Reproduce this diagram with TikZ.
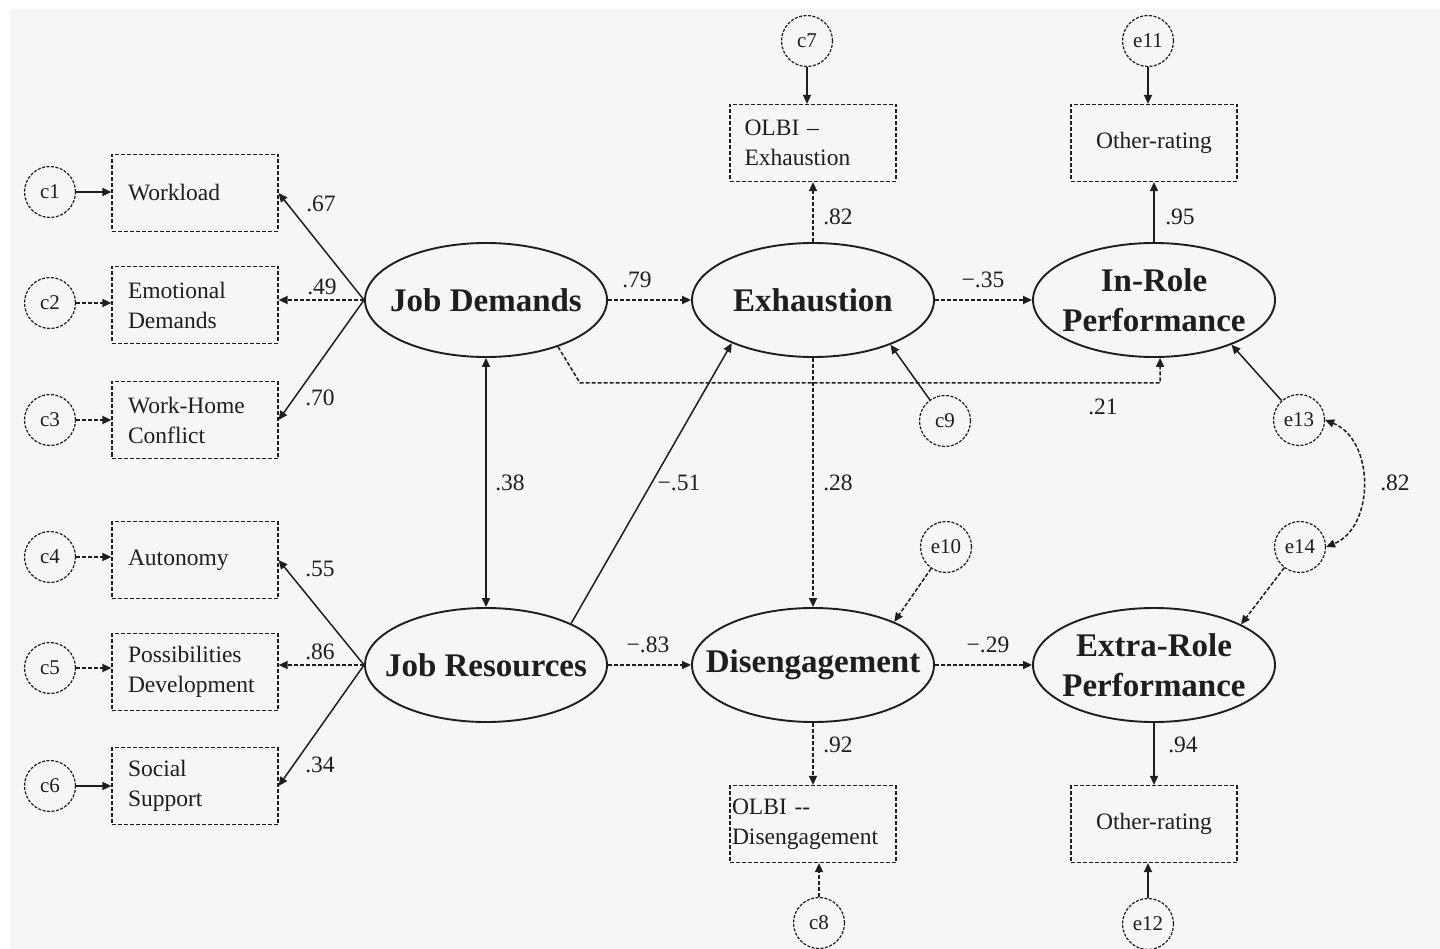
\documentclass[tikz,border=0pt]{standalone}
\usepackage{fontspec}
\setmainfont{Liberation Serif}
\usetikzlibrary{arrows.meta,shapes.geometric}
\definecolor{bg}{HTML}{F6F6F6}
\definecolor{ink}{HTML}{1E1E1E}
\begin{document}
\begin{tikzpicture}[x=1pt,y=-1pt,
  >={Triangle[length=9pt,width=8pt]},
  every node/.style={text=ink},
  err/.style={circle,draw=ink,dash pattern=on 3pt off 1.5pt,line width=1.2pt,minimum size=51pt,inner sep=0pt,font=\fontsize{21}{24}\selectfont},
  obs/.style={rectangle,draw=ink,dash pattern=on 4pt off 2pt,line width=1.2pt,minimum width=166pt,minimum height=77pt,text width=134pt,inner xsep=16pt,align=left,font=\fontsize{23.5}{30}\selectfont},
  lat/.style={ellipse,draw=ink,line width=1.9pt,minimum width=242pt,minimum height=114pt,inner sep=0pt},
  lattext/.style={label={[align=center,inner sep=0pt,font=\fontsize{33}{40}\selectfont\bfseries,text=ink]center:#1}},
  con/.style={->,draw=ink,line width=1.5pt},
  dcon/.style={con,dash pattern=on 4pt off 2pt},
  dbl/.style={<->,draw=ink,line width=1.5pt},
  lab/.style={font=\fontsize{23.5}{26}\selectfont,inner sep=0pt},
]
\useasboundingbox (0,0) rectangle (1440,949);
\fill[white] (0,0) rectangle (1440,949);
\fill[bg] (10,9) rectangle (1440,949);

% error circles left
\node[err] (c1) at (50,192) {c1};
\node[err] (c2) at (50,303) {c2};
\node[err] (c3) at (50,420) {c3};
\node[err] (c4) at (50,557) {c4};
\node[err] (c5) at (50,668) {c5};
\node[err] (c6) at (50,786) {c6};

% observed boxes left
\node[obs] (wl) at (195,193) {Workload};
\node[obs] (ed) at (195,305) {Emotional\\Demands};
\node[obs] (wh) at (195,420) {Work-Home\\Conflict};
\node[obs] (au) at (195,560) {Autonomy};
\node[obs] (pd) at (195,672) {Possibilities\\Development};
\node[obs] (ss) at (195,786) {Social\\Support};

% latent
\node[lat,lattext={Job Demands}] (jd) at (486,300) {};
\node[lat,lattext={Job Resources}] (jr) at (486,665) {};
\node[lat,lattext={Exhaustion}] (ex) at (813,300) {};
\node[lat,lattext={Disengagement}] (dis) at (813,665) {};
\node[lat,lattext={In-Role\\Performance}] (ir) at (1154,300) {};
\node[lat,lattext={Extra-Role\\Performance}] (er) at (1154,665) {};

% observed boxes right
\node[obs,text width=137pt,inner xsep=13pt] (olbie) at (813,143) {OLBI –\\Exhaustion};
\node[obs,text width=162pt,inner xsep=2pt] (olbid) at (813,824) {OLBI -{}-\\Disengagement};
\node[obs,align=center] (or1) at (1154,143) {Other-rating};
\node[obs,align=center] (or2) at (1154,824) {Other-rating};

% error circles right
\node[err] (c7) at (807,41) {c7};
\node[err] (e11) at (1148,41) {e11};
\node[err] (c8) at (819,923) {c8};
\node[err] (e12) at (1148,924) {e12};
\node[err] (c9) at (945,421) {c9};
\node[err] (e10) at (946,547) {e10};
\node[err] (e13) at (1299,420) {e13};
\node[err] (e14) at (1300,547) {e14};

% error arrows left
\draw[con] (c1) -- (c1 -| wl.west);
\draw[dcon] (c2) -- (c2 -| ed.west);
\draw[dcon] (c3) -- (c3 -| wh.west);
\draw[dcon] (c4) -- (c4 -| au.west);
\draw[dcon] (c5) -- (c5 -| pd.west);
\draw[con] (c6) -- (c6 -| ss.west);

% loadings left
\draw[con] (jd.west) -- (wl.east);
\draw[dcon] (jd.west) -- (ed.east |- jd.west);
\draw[con] (jd.west) -- (wh.east);
\draw[con] (jr.west) -- (au.east);
\draw[dcon] (jr.west) -- (pd.east |- jr.west);
\draw[con] (jr.west) -- (ss.east);

% structural paths
\draw[dbl] (jd) -- (jr);
\draw[dcon] (jd.east) -- (ex.west);
\draw[con] (jr.26.6) -- (ex.-152.4);
\draw[dcon] (jr.east) -- (dis.west);
\draw[dcon] (ex) -- (olbie);
\draw[dcon] (ex) -- (ir);
\draw[dcon] (ex) -- (dis);
\draw[dcon] (dis) -- (olbid);
\draw[con] (c9) -- (ex.-30);
\draw[dcon] (e10) -- (dis.28);
\coordinate (k1) at (580,383);
\coordinate (k2) at (1160,383);
\draw[dcon] (jd.-33.5) -- (k1) -- (k2) -- (ir.-84);
\draw[dcon] (dis) -- (er);
\draw[con] (ir) -- (or1);
\draw[con] (er) -- (or2);
\draw[con] (e11) -- (e11 |- or1.north);
\draw[con] (c7) -- (c7 |- olbie.north);
\draw[dcon] (c8) -- (c8 |- olbid.south);
\draw[con] (e12) -- (e12 |- or2.south);
\draw[con] (e13) -- (ir.-30);
\draw[dcon] (e14) -- (er.25);
\draw[dbl,dash pattern=on 4pt off 2pt] (e13.east) .. controls (1375,440) and (1375,527) .. (e14.east);

% labels
\node[lab] (l67) at (321,204) {.67};
\node[lab] (l49) at (322,287) {.49};
\node[lab] (l70) at (320,398) {.70};
\node[lab] (l55) at (320,569) {.55};
\node[lab] (l86) at (320,652) {.86};
\node[lab] (l34) at (320,765) {.34};
\node[lab] (l38) at (510,483) {.38};
\node[lab] (l51) at (679,483) {−.51};
\node[lab] (l79) at (637,280) {.79};
\node[lab] (l35) at (983,280) {−.35};
\node[lab] (l82a) at (838,217) {.82};
\node[lab] (l95) at (1180,217) {.95};
\node[lab] (l28) at (838,483) {.28};
\node[lab] (l21) at (1103,407) {.21};
\node[lab] (l83) at (648,645) {−.83};
\node[lab] (l29) at (988,645) {−.29};
\node[lab] (l92) at (838,745) {.92};
\node[lab] (l94) at (1183,745) {.94};
\node[lab] (l82b) at (1395,483) {.82};
\end{tikzpicture}
\end{document}
